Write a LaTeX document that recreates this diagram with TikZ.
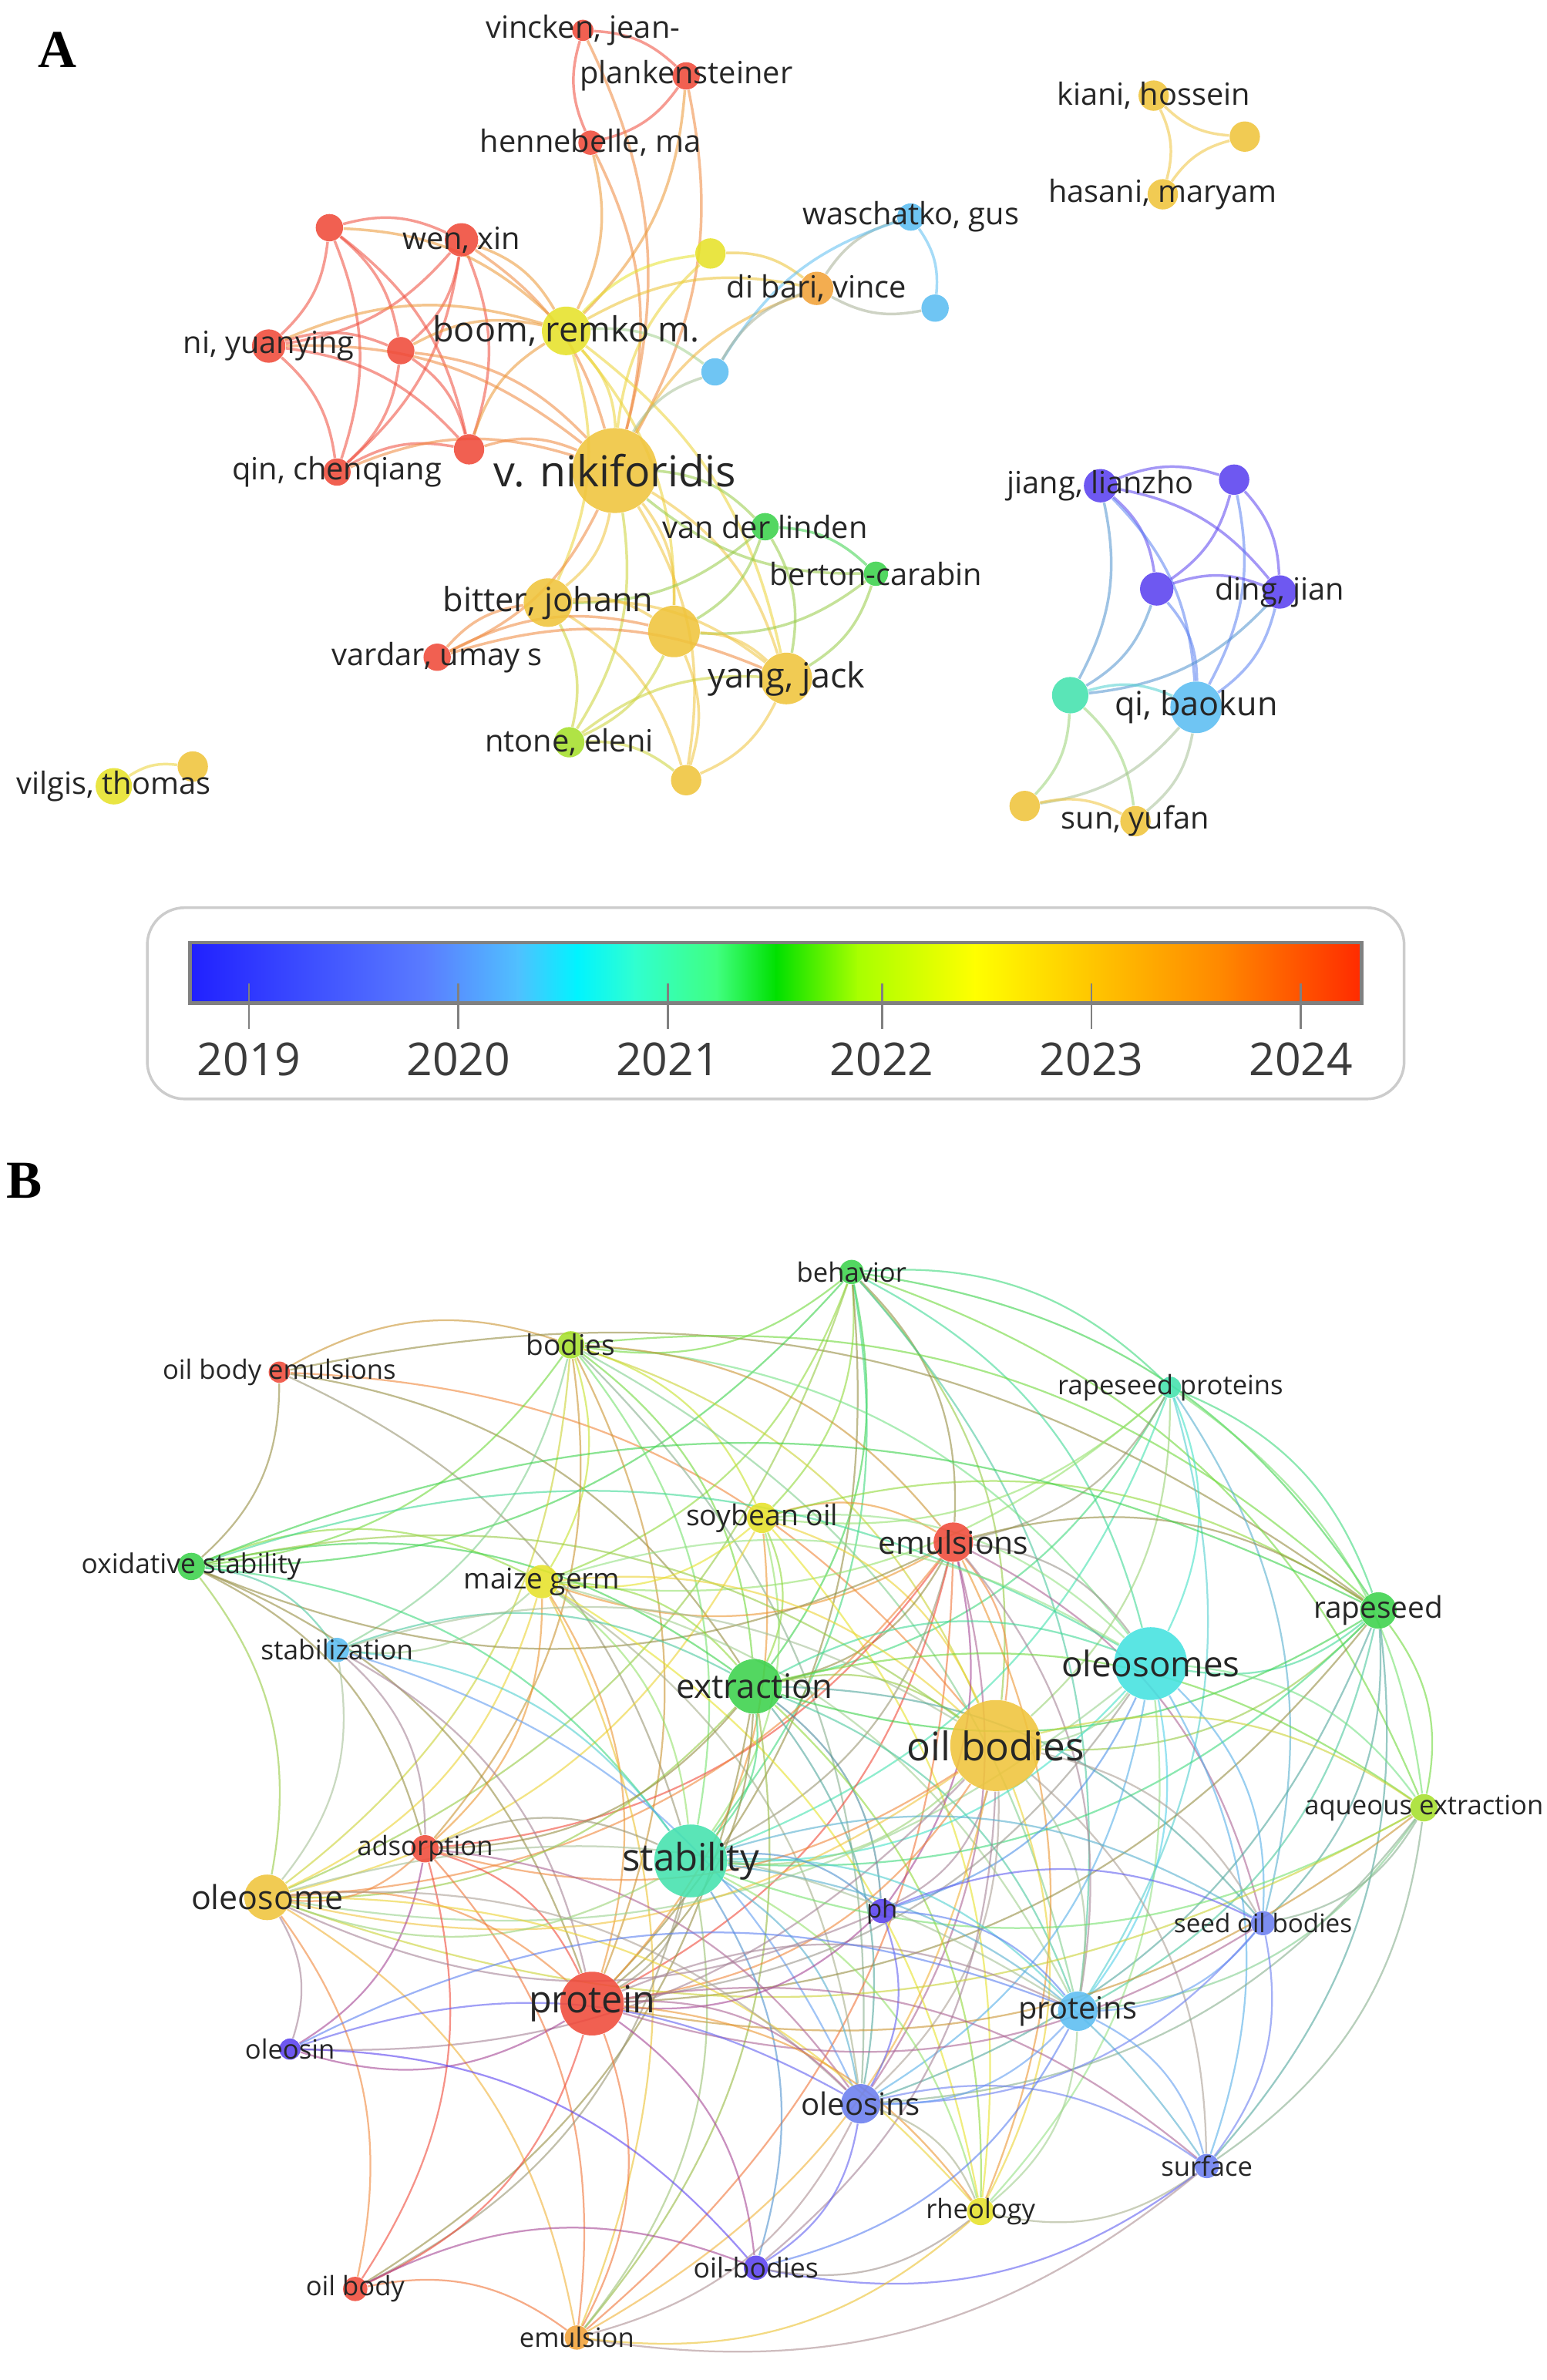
\documentclass[tikz,border=0pt]{standalone}
\usepackage{fontspec}
\setmainfont{Open Sans}
\newfontfamily\panelfont{Liberation Serif}
\usetikzlibrary{backgrounds}

\definecolor{vred}{HTML}{F04A3A}
\definecolor{vorange}{HTML}{F2A238}
\definecolor{vgold}{HTML}{F0C43C}
\definecolor{vyellow}{HTML}{E6E22A}
\definecolor{vlime}{HTML}{A6E02C}
\definecolor{vgreen}{HTML}{3CD24C}
\definecolor{vmint}{HTML}{44E2AE}
\definecolor{vcyan}{HTML}{44E2E0}
\definecolor{vsky}{HTML}{5CBEF2}
\definecolor{vblue}{HTML}{6A7EF0}
\definecolor{vpurple}{HTML}{5A42F0}
\definecolor{labtext}{HTML}{262626}
% colour bar stops
\definecolor{g0}{HTML}{2020FF}
\definecolor{g1}{HTML}{5A7CFF}
\definecolor{g2}{HTML}{50C0FF}
\definecolor{g3}{HTML}{00F4FF}
\definecolor{g4}{HTML}{30FFD0}
\definecolor{g5}{HTML}{40FF80}
\definecolor{g6}{HTML}{00E000}
\definecolor{g7}{HTML}{A8FF00}
\definecolor{g8}{HTML}{FFFF00}
\definecolor{g9}{HTML}{FFC000}
\definecolor{g10}{HTML}{FF8800}
\definecolor{g11}{HTML}{FF2A00}

\begin{document}
\begin{tikzpicture}[x=0.02cm, y=-0.02cm,
    dot/.style 2 args={circle, inner sep=0pt, minimum size=#1*0.4mm, fill=#2, fill opacity=0.88},
    lab/.style={text=labtext, inner sep=0pt, font=\fontsize{#1}{#1}\selectfont},
    link/.style={line width=1pt, draw opacity=0.55},
    linkb/.style={line width=0.65pt, draw opacity=0.6},
    panel/.style={inner sep=0pt, font=\panelfont\bfseries\fontsize{20}{20}\selectfont}]
\useasboundingbox (0,0) rectangle (1019,1568);

% panel letters
\node[panel] (panelA) at (38,33) {A};
\node[panel] (panelB) at (16,778) {B};

% ---- A: co-authorship network
\foreach \n/\x/\y/\r/\c in {
    vincken/384/20/7/vred, plank/452/50/9/vred, henne/389/94/8/vred,
    rA/217/150/9/vred, wen/304/158/11/vred, ni/177/228/11/vred,
    rB/264/231/9/vred, qin/222/311/9/vred, rC/309/296/10/vred,
    boom/373/218/16/vyellow, niki/405/310/28/vgold, yA/468/167/10/vyellow,
    dibari/538/190/11/vorange, wasch/600/143/9/vsky, bA/616/203/9/vsky,
    bB/471/245/9/vsky, vdl/504/347/9/vgreen, berton/577/378/8/vgreen,
    bitter/361/397/16/vgold, gA/444/416/17/vgold, yang/518/447/17/vgold,
    vardar/288/433/9/vred, ntone/375/489/10/vlime, gB/452/514/10/vgold,
    vilgis/75/518/12/vyellow, gC/127/505/10/vgold,
    kiani/760/63/10/vgold, gD/820/90/10/vgold, hasani/766/128/10/vgold,
    jiang/725/320/11/vpurple, pA/813/316/10/vpurple, pB/762/388/11/vpurple,
    ding/843/390/11/vpurple, tA/705/458/12/vmint, qi/788/466/17/vsky,
    gE/675/531/10/vgold, sun/748/541/10/vgold}
  {\node[dot={\r}{\c}] (\n) at (\x,\y) {};
   \xglobal\colorlet{c\n}{\c}}

% ---- B: keyword network
\foreach \n/\x/\y/\r/\c in {
    behav/561/838/8/vgreen, bodies/376/886/9/vlime, obemul/184/904/7/vred,
    rprot/771/914/7/vmint, soyoil/502/1000/10/vyellow, emuls/628/1016/13/vred,
    oxstab/126/1032/9/vgreen, maize/357/1042/11/vyellow, rapes/908/1061/12/vgreen,
    stabz/222/1087/8/vsky, extr/497/1111/18/vgreen, oleosomes/758/1096/24/vcyan,
    oilbod/656/1150/30/vgold, aqext/938/1191/9/vlime, adsorp/280/1218/9/vred,
    stab/455/1226/24/vmint, oleosome/176/1250/15/vgold, ph/581/1259/8/vpurple,
    seedob/832/1267/8/vblue, protein/390/1320/21/vred, proteins/710/1325/13/vsky,
    oleosin/191/1350/7/vpurple, oleosins/567/1386/13/vblue, surface/795/1427/8/vblue,
    rheo/646/1457/9/vyellow, oilbods/498/1494/8/vpurple, oilbody/234/1508/8/vred,
    emulsion/380/1540/8/vorange}
  {\node[dot={\r}{\c}] (\n) at (\x,\y) {};
   \xglobal\colorlet{c\n}{\c}}

\begin{scope}[on background layer]
  \fill[white] (0,0) rectangle (1019,1568);
  % links A
  \foreach \a/\b in {
      rA/wen, rA/ni, rA/rB, rA/qin, rA/rC, wen/ni, wen/rB, wen/qin, wen/rC,
      ni/rB, ni/qin, ni/rC, rB/qin, rB/rC, qin/rC,
      wen/boom, wen/niki, rA/boom, ni/boom, ni/niki, rB/boom, rB/niki,
      rC/boom, rC/niki, qin/niki,
      vincken/plank, henne/vincken, plank/henne, vincken/niki, plank/niki,
      henne/niki, henne/boom, plank/boom,
      boom/niki, boom/yA, boom/dibari, boom/bB, boom/bitter, boom/gA, boom/yang,
      niki/yA, niki/dibari, niki/bB, niki/vdl, niki/bitter, niki/gA, niki/yang,
      niki/ntone, niki/gB, niki/vardar, yA/dibari, dibari/wasch, bA/dibari,
      wasch/bA, bB/wasch, bB/dibari,
      vdl/berton, vdl/gA, vdl/yang, berton/gA, berton/yang, vdl/bitter, berton/niki,
      bitter/gA, bitter/yang, vardar/bitter, bitter/ntone, bitter/gB, gA/yang,
      gA/ntone, gA/gB, vardar/yang, yang/gB, ntone/yang, vardar/gA, ntone/gB,
      vilgis/gC, gD/kiani, kiani/hasani, hasani/gD,
      jiang/pA, jiang/pB, jiang/ding, jiang/qi, jiang/tA, pA/pB, pA/ding, pA/qi,
      pB/ding, pB/qi, pB/tA, ding/qi, ding/tA, tA/qi, tA/gE, tA/sun, qi/gE,
      qi/sun, gE/sun}
    {\draw[link, draw=c\a!50!c\b] (\a) to[bend left=20] (\b);}
  % links B
  \foreach \a/\l in {
      obemul/{oxstab,bodies,rapes,stab,extr,oilbod},
      behav/{bodies,oxstab,maize,extr,soyoil,emuls,oleosomes,oilbod,rapes,rprot,stab,protein,oleosome,aqext,proteins},
      bodies/{oxstab,maize,extr,soyoil,oilbod,oleosomes,rapes,stab,protein,oleosome,adsorp,emuls,stabz,proteins,oleosins},
      rprot/{oleosomes,rapes,oilbod,extr,emuls,stab,proteins,aqext,seedob,soyoil,maize},
      soyoil/{maize,extr,emuls,oilbod,oleosomes,stab,protein,rapes,oleosome,rheo},
      emuls/{oilbod,extr,stab,protein,oleosomes,maize,oxstab,rapes,proteins,oleosins,seedob,adsorp,oleosome,rheo,emulsion,ph},
      oxstab/{maize,extr,stabz,stab,oilbod,oleosomes,rapes,oleosome,protein,adsorp},
      maize/{extr,stab,oilbod,oleosome,protein,adsorp,stabz,oleosomes,proteins,rheo,emulsion,oleosins},
      rapes/{oleosomes,oilbod,extr,stab,aqext,proteins,seedob,surface,protein,oleosins},
      stabz/{stab,extr,protein,oleosome,oilbod,adsorp,oleosins},
      extr/{oilbod,oleosomes,stab,protein,proteins,oleosins,oleosome,aqext,ph,rheo,adsorp,emulsion,oilbody,seedob},
      oleosomes/{oilbod,stab,protein,proteins,oleosins,aqext,seedob,surface,ph,rheo,oleosome},
      oilbod/{stab,protein,proteins,oleosins,aqext,seedob,surface,ph,rheo,oleosome,adsorp,oilbods,emulsion,oleosin},
      aqext/{stab,proteins,seedob,oleosins,protein,surface,oleosome},
      adsorp/{stab,protein,oleosome,oleosin,oilbody,emulsion,oleosins},
      stab/{protein,proteins,oleosins,oleosome,ph,rheo,seedob,emulsion,oilbody,oilbods,surface},
      oleosome/{protein,oleosin,oilbody,emulsion,rheo,proteins,oleosins},
      ph/{oleosins,proteins,seedob,protein,oleosome},
      seedob/{proteins,oleosins,surface,protein},
      protein/{proteins,oleosins,oleosin,oilbody,emulsion,rheo,oilbods,surface},
      proteins/{oleosins,surface,rheo,oilbods},
      oleosin/{oleosins,oilbods,proteins},
      oleosins/{rheo,surface,oilbods,emulsion},
      surface/{rheo,oilbods,emulsion},
      rheo/{oilbods,emulsion},
      oilbody/{emulsion,oilbods}}
    {\foreach \b in \l
      {\draw[linkb, draw=c\a!50!c\b] (\a) to[bend left=24] (\b);}}
\end{scope}

% labels A
\foreach \n/\s/\t in {
    vincken/11.5/{vincken, jean-}, plank/11.5/plankensteiner, henne/11.5/{hennebelle, ma},
    wen/11.5/{wen, xin}, ni/11.5/{ni, yuanying}, qin/11.5/{qin, chenqiang},
    boom/13/{boom, remko m.}, niki/16/{v. nikiforidis}, dibari/11.5/{di bari, vince},
    wasch/11.5/{waschatko, gus}, vdl/11.5/{van der linden}, berton/11.5/berton-carabin,
    bitter/12.5/{bitter, johann}, vardar/11.5/{vardar, umay s}, yang/13/{yang, jack},
    ntone/11.5/{ntone, eleni}, vilgis/11.5/{vilgis, thomas}, kiani/11.5/{kiani, hossein},
    hasani/11.5/{hasani, maryam}, jiang/11.5/{jiang, lianzho}, ding/11.5/{ding, jian},
    qi/12.5/{qi, baokun}, sun/11.5/{sun, yufan}}
  {\node[lab=\s] at (\n) {\t};}

% labels B
\foreach \n/\s/\t in {
    behav/10/behavior, bodies/10.7/bodies, obemul/10/oil body emulsions,
    rprot/10/rapeseed proteins, soyoil/10.8/soybean oil, emuls/11.8/emulsions,
    oxstab/10.2/oxidative stability, maize/10.7/maize germ, rapes/11.2/rapeseed,
    stabz/10.2/stabilization, extr/12.6/extraction, oleosomes/13.2/oleosomes,
    oilbod/14.8/oil bodies, aqext/10/aqueous extraction, adsorp/10/adsorption,
    stab/14.2/stability, oleosome/12.4/oleosome, ph/9.5/ph, seedob/9.6/seed oil bodies,
    protein/14/protein, proteins/11.5/proteins, oleosin/10/oleosin,
    oleosins/11.6/oleosins, surface/10/surface, rheo/10/rheology,
    oilbods/10.3/oil-bodies, oilbody/10/oil body, emulsion/10/emulsion}
  {\node[lab=\s] at (\n) {\t};}

% colour scale
\draw[gray!40, line width=1pt, rounded corners=14pt] (97,598) rectangle (925,724);
\foreach \xa/\ca/\xb/\cb in {125/g0/280/g1, 280/g1/341/g2, 341/g2/380/g3, 380/g3/418/g4,
    418/g4/472/g5, 472/g5/511/g6, 511/g6/565/g7, 565/g7/642/g8, 642/g8/727/g9,
    727/g9/804/g10, 804/g10/897/g11}
  {\shade[left color=\ca, right color=\cb] (\xa,621) rectangle (\xb+0.5,661);}
\draw[gray, line width=1.4pt] (125,621) rectangle (897,661);
\foreach \x/\yr in {164/2019, 302/2020, 440/2021, 581/2022, 719/2023, 857/2024}
  {\draw[gray, line width=0.8pt] (\x,648) -- (\x,678);
   \node[lab=17, text=labtext!90] at (\x,698) {\yr};}
\end{tikzpicture}
\end{document}
